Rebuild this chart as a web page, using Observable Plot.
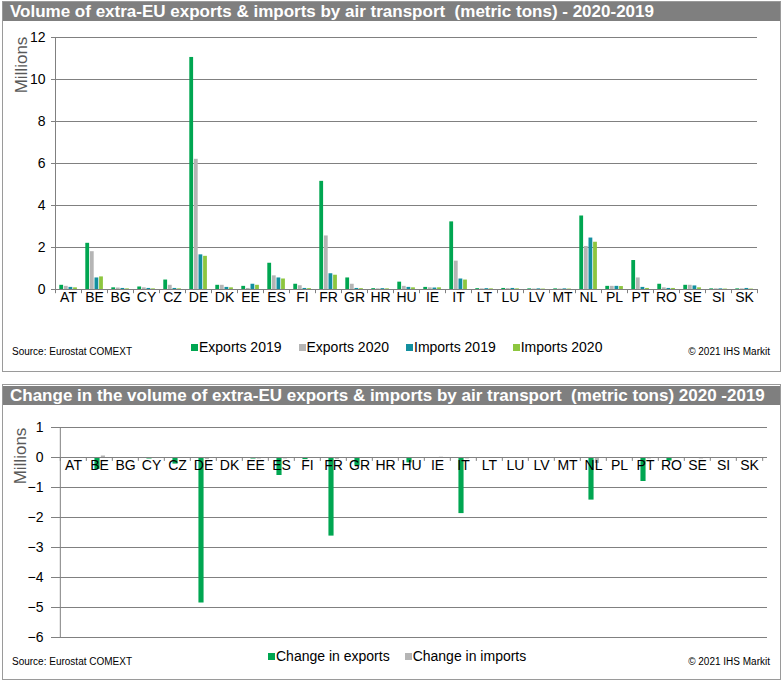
<!DOCTYPE html>
<html>
<head>
<meta charset="utf-8">
<script src="https://cdn.jsdelivr.net/npm/d3@7"></script>
<script src="https://cdn.jsdelivr.net/npm/@observablehq/plot@0.6"></script>
<style>
  body { margin: 0; background: #fff; font-family: "Liberation Sans", Arial, sans-serif; }
  .panel { position: absolute; border: 1px solid #9a9a9a; box-sizing: border-box; }
  .titlebar { position: absolute; background: #7f7f7f; color: #fff; font-weight: bold; font-size: 17px; white-space: nowrap; padding-left: 7px; box-sizing: border-box; overflow: hidden; }
  .plotwrap { position: absolute; left: 0; }
  .ylab { position: absolute; transform: translate(-50%, -50%) rotate(-90deg); color: #595959; font-size: 17px; white-space: nowrap; }
  .legend { position: absolute; display: flex; align-items: center; font-size: 14px; color: #000; white-space: nowrap; }
  .legend .sw { width: 7px; height: 7px; margin-right: 1px; display: inline-block; }
  .legend .item { display: flex; align-items: center; }
  .note { position: absolute; font-size: 10px; color: #000; white-space: nowrap; }
</style>
</head>
<body>
<div class="panel" style="left:2px; top:1px; width:779px; height:371px;"></div>
<div class="titlebar" style="left:3px; top:2px; width:777px; height:19px; line-height:19px;">Volume of extra-EU exports &amp; imports by air transport&nbsp; (metric tons) - 2020-2019</div>
<div class="ylab" style="left:22px; top:65px;">Millions</div>
<div id="top" class="plotwrap" style="top:22px;"></div>
<div id="legTop" class="legend" style="left:191px; top:339px; height:16px;"></div>
<div class="note" style="left:12px; top:346px;">Source: Eurostat COMEXT</div>
<div class="note" style="right:13px; top:346px;">© 2021 IHS Markit</div>

<div class="panel" style="left:2px; top:384px; width:779px; height:296px;"></div>
<div class="titlebar" style="left:3px; top:386px; width:777px; height:19px; line-height:19px;">Change in the volume of extra-EU exports &amp; imports by air transport&nbsp; (metric tons) 2020 -2019</div>
<div class="ylab" style="left:21px; top:456px;">Millions</div>
<div id="bottom" class="plotwrap" style="top:405px;"></div>
<div id="legBottom" class="legend" style="left:268px; top:648px; height:16px;"></div>
<div class="note" style="left:12px; top:656px;">Source: Eurostat COMEXT</div>
<div class="note" style="right:13px; top:656px;">© 2021 IHS Markit</div>

<script>
// ---------- DATA (millions of metric tons) ----------
const categories = ["AT","BE","BG","CY","CZ","DE","DK","EE","ES","FI","FR","GR","HR","HU","IE","IT","LT","LU","LV","MT","NL","PL","PT","RO","SE","SI","SK"];
const exports2019 = [0.20, 2.20, 0.08, 0.12, 0.45, 11.05, 0.20, 0.15, 1.25, 0.25, 5.15, 0.55, 0.04, 0.35, 0.10, 3.22, 0.04, 0.05, 0.03, 0.03, 3.50, 0.15, 1.38, 0.25, 0.20, 0.03, 0.03];
const exports2020 = [0.15, 1.80, 0.07, 0.08, 0.20, 6.20, 0.20, 0.05, 0.65, 0.18, 2.55, 0.25, 0.03, 0.15, 0.08, 1.35, 0.03, 0.04, 0.02, 0.02, 2.05, 0.15, 0.55, 0.08, 0.20, 0.03, 0.03];
const imports2019 = [0.10, 0.55, 0.05, 0.05, 0.05, 1.65, 0.10, 0.25, 0.55, 0.05, 0.75, 0.05, 0.04, 0.10, 0.07, 0.50, 0.04, 0.05, 0.03, 0.03, 2.45, 0.15, 0.10, 0.05, 0.17, 0.03, 0.05];
const imports2020 = [0.08, 0.60, 0.03, 0.03, 0.03, 1.58, 0.08, 0.20, 0.50, 0.04, 0.68, 0.04, 0.03, 0.08, 0.08, 0.45, 0.03, 0.03, 0.02, 0.02, 2.25, 0.14, 0.05, 0.05, 0.08, 0.02, 0.02];
const changeExports = [-0.03, -0.40, -0.01, -0.05, -0.22, -4.85, -0.02, -0.05, -0.60, -0.07, -2.62, -0.28, -0.01, -0.18, -0.02, -1.87, -0.02, -0.03, -0.02, -0.02, -1.42, -0.01, -0.80, -0.12, -0.03, -0.01, -0.03];
const changeImports = [-0.02, 0.05, -0.01, -0.02, -0.02, -0.07, -0.02, -0.05, -0.05, -0.01, -0.07, -0.02, -0.01, -0.02, 0.01, -0.05, -0.01, -0.02, -0.01, -0.02, -0.20, -0.01, -0.05, -0.01, -0.05, -0.01, -0.03];
const topSeries = ["Exports 2019", "Exports 2020", "Imports 2019", "Imports 2020"];
const bottomSeries = ["Change in exports", "Change in imports"];
const topTicks = [0, 2, 4, 6, 8, 10, 12];
const bottomTicks = [-6, -5, -4, -3, -2, -1, 0, 1];

// ---------- STYLE ----------
const topColors = ["#00a651", "#b5b5b5", "#138f9f", "#8dc63f"];
const bottomColors = ["#00a651", "#b5b5b5"];
const gridColor = "#808080";
const font = "'Liberation Sans', Arial, sans-serif";

const topRows = categories.map((c, i) => ({cat: c, v: [exports2019[i], exports2020[i], imports2019[i], imports2020[i]]}));
const bottomRows = categories.map((c, i) => ({cat: c, v: [changeExports[i], changeImports[i]]}));

function barInset(bw, center, w) {
  return {insetLeft: bw / 2 + center - w / 2, insetRight: bw / 2 - center - w / 2};
}

// ---------- TOP CHART ----------
{
  const W = 783, H = 300, mL = 55, mR = 26, mT = 15, mB = 33;
  const bw = (W - mL - mR) / categories.length;
  const centers = [-6.8, -2.2, 2.4, 7.0];
  const barW = 3.8;
  const marks = [
    Plot.gridY(topTicks.filter(t => t !== 0), {stroke: gridColor, strokeOpacity: 1}),
    Plot.axisY(topTicks, {tickSize: 4, tickPadding: 6, stroke: gridColor, label: null, fontSize: 14, fill: "#000"}),
    Plot.ruleX([categories[0]], {dx: -bw / 2, stroke: gridColor})
  ];
  topSeries.forEach((s, k) => {
    marks.push(Plot.barY(topRows, {x: "cat", y: d => d.v[k], fill: topColors[k], ...barInset(bw, centers[k], barW)}));
  });
  marks.push(
    Plot.ruleY([0], {stroke: gridColor}),
    Plot.ruleX(categories, {x: d => d, y1: 0, y2: -0.2, dx: -bw / 2, stroke: gridColor}),
    Plot.ruleX([categories[categories.length - 1]], {y1: 0, y2: -0.2, dx: bw / 2, stroke: gridColor}),
    Plot.text(categories, {x: d => d, y: 0, dy: 8.5, text: d => d, fontSize: 14, fill: "#000"})
  );
  const chart = Plot.plot({
    width: W, height: H, marginLeft: mL, marginRight: mR, marginTop: mT, marginBottom: mB,
    x: {domain: categories, padding: 0, axis: null},
    y: {domain: [0, 12], axis: null},
    style: {fontFamily: font, fontSize: "14px", background: "transparent", overflow: "visible"},
    marks
  });
  document.getElementById("top").appendChild(chart);
}

// ---------- BOTTOM CHART ----------
{
  const W = 783, H = 240, mL = 55, mR = 16, mT = 22, mB = 8;
  const bw = (W - mL - mR) / categories.length;
  const centers = [-2.0, 3.9];
  const widths = [5.5, 4.5];
  const marks = [
    Plot.gridY(bottomTicks.filter(t => t !== 0), {stroke: gridColor, strokeOpacity: 1}),
    Plot.axisY(bottomTicks, {tickSize: 4, tickPadding: 8, stroke: gridColor, label: null, fontSize: 14, fill: "#000"}),
    Plot.ruleX([categories[0]], {dx: -bw / 2, stroke: gridColor})
  ];
  bottomSeries.forEach((s, k) => {
    marks.push(Plot.barY(bottomRows, {x: "cat", y: d => d.v[k], fill: bottomColors[k], ...barInset(bw, centers[k], widths[k])}));
  });
  marks.push(
    Plot.ruleY([0], {stroke: gridColor}),
    Plot.ruleX(categories, {x: d => d, y1: 0, y2: -0.13, dx: -bw / 2, stroke: gridColor}),
    Plot.ruleX([categories[categories.length - 1]], {y1: 0, y2: -0.13, dx: bw / 2, stroke: gridColor}),
    Plot.text(categories, {x: d => d, y: 0, dy: 8.5, text: d => d, fontSize: 14, fill: "#000"})
  );
  const chart = Plot.plot({
    width: W, height: H, marginLeft: mL, marginRight: mR, marginTop: mT, marginBottom: mB,
    x: {domain: categories, padding: 0, axis: null},
    y: {domain: [-6, 1], axis: null},
    style: {fontFamily: font, fontSize: "14px", background: "transparent", overflow: "visible"},
    marks
  });
  document.getElementById("bottom").appendChild(chart);
}

// ---------- LEGENDS ----------
function legend(id, names, colors, gap) {
  const el = document.getElementById(id);
  names.forEach((n, i) => {
    const item = document.createElement("span");
    item.className = "item";
    if (i < names.length - 1) item.style.marginRight = gap + "px";
    const sw = document.createElement("span");
    sw.className = "sw";
    sw.style.background = colors[i];
    const t = document.createElement("span");
    t.textContent = n;
    item.appendChild(sw);
    item.appendChild(t);
    el.appendChild(item);
  });
}
legend("legTop", topSeries, topColors, 17);
legend("legBottom", bottomSeries, bottomColors, 15);
</script>
</body>
</html>
